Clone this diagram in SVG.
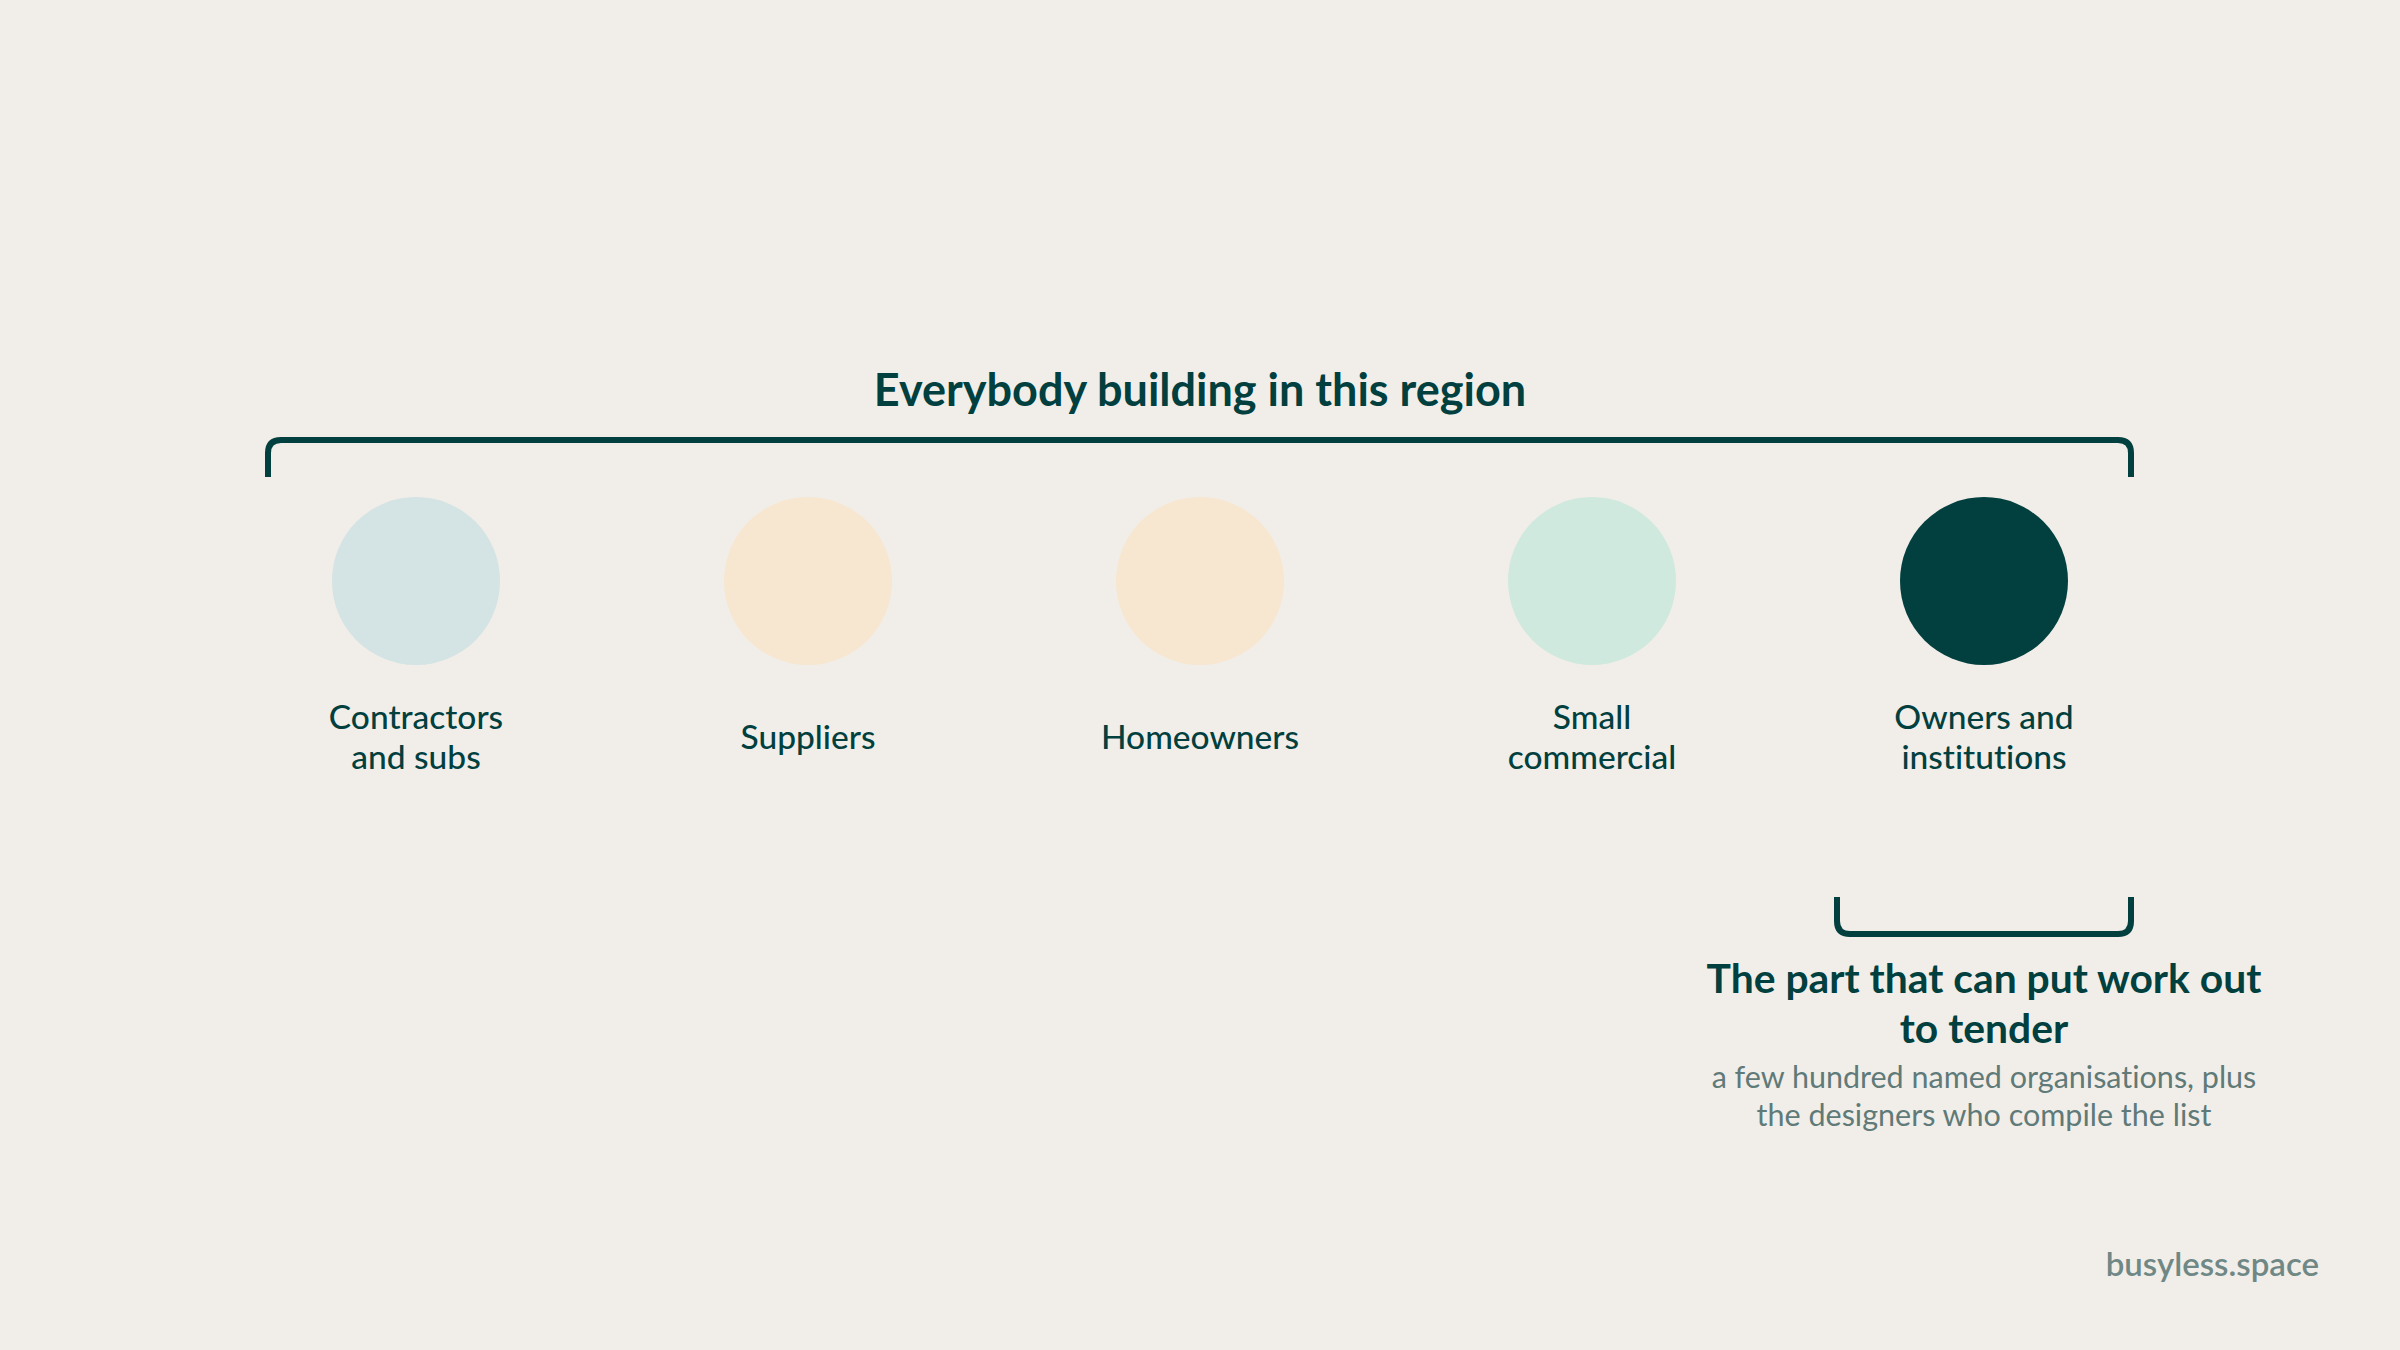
<svg xmlns="http://www.w3.org/2000/svg" width="2400" height="1350" viewBox="0 0 2400 1350">
<style>
.bg{fill:#f1eee9}
.br{fill:none;stroke:#023f3f;stroke-width:6;stroke-linecap:butt;stroke-linejoin:round}
text{font-variant-ligatures:none;font-feature-settings:"liga" 0,"dlig" 0}
.t{font-family:Lato,"Liberation Sans",sans-serif;fill:#023f3f;text-anchor:middle}
.h{font-weight:700;font-size:45px}
.lb{font-weight:500;font-size:33.5px}
.h2{font-weight:700;font-size:40.8px}
.sub{font-family:Lato,"Liberation Sans",sans-serif;fill:#5f7a78;font-size:30.5px;text-anchor:middle}
.foot{font-family:Lato,"Liberation Sans",sans-serif;fill:#6f8886;font-size:33px;font-weight:600;text-anchor:end}
</style>
<rect class="bg" x="0" y="0" width="2400" height="1350"/>
<g id="connectors">
<path class="br" d="M268,477 V453 Q268,440 281,440 H2118 Q2131,440 2131,453 V477"/>
<path class="br" d="M1837,897 V921 Q1837,934 1850,934 H2118 Q2131,934 2131,921 V897"/>
</g>
<g id="title"><text class="t h" x="1200" y="406">Everybody building in this region</text></g>
<g id="n1"><circle cx="416" cy="581" r="84" fill="#d4e3e3"/><text class="t lb" x="416" y="729">Contractors</text><text class="t lb" x="416" y="769">and subs</text></g>
<g id="n2"><circle cx="808" cy="581" r="84" fill="#f7e6d0"/><text class="t lb" x="808" y="749">Suppliers</text></g>
<g id="n3"><circle cx="1200" cy="581" r="84" fill="#f7e6d0"/><text class="t lb" x="1200" y="749">Homeowners</text></g>
<g id="n4"><circle cx="1592" cy="581" r="84" fill="#d0e9de"/><text class="t lb" x="1592" y="729">Small</text><text class="t lb" x="1592" y="769">commercial</text></g>
<g id="n5"><circle cx="1984" cy="581" r="84" fill="#023f3f"/><text class="t lb" x="1984" y="729">Owners and</text><text class="t lb" x="1984" y="769">institutions</text></g>
<g id="tender"><text class="t h2" x="1984" y="993">The part that can put work out</text><text class="t h2" x="1984" y="1043">to tender</text>
<text class="sub" x="1984" y="1088">a few hundred named organisations, plus</text><text class="sub" x="1984" y="1126">the designers who compile the list</text></g>
<g id="footer"><text class="foot" x="2319" y="1276">busyless.space</text></g>
</svg>
